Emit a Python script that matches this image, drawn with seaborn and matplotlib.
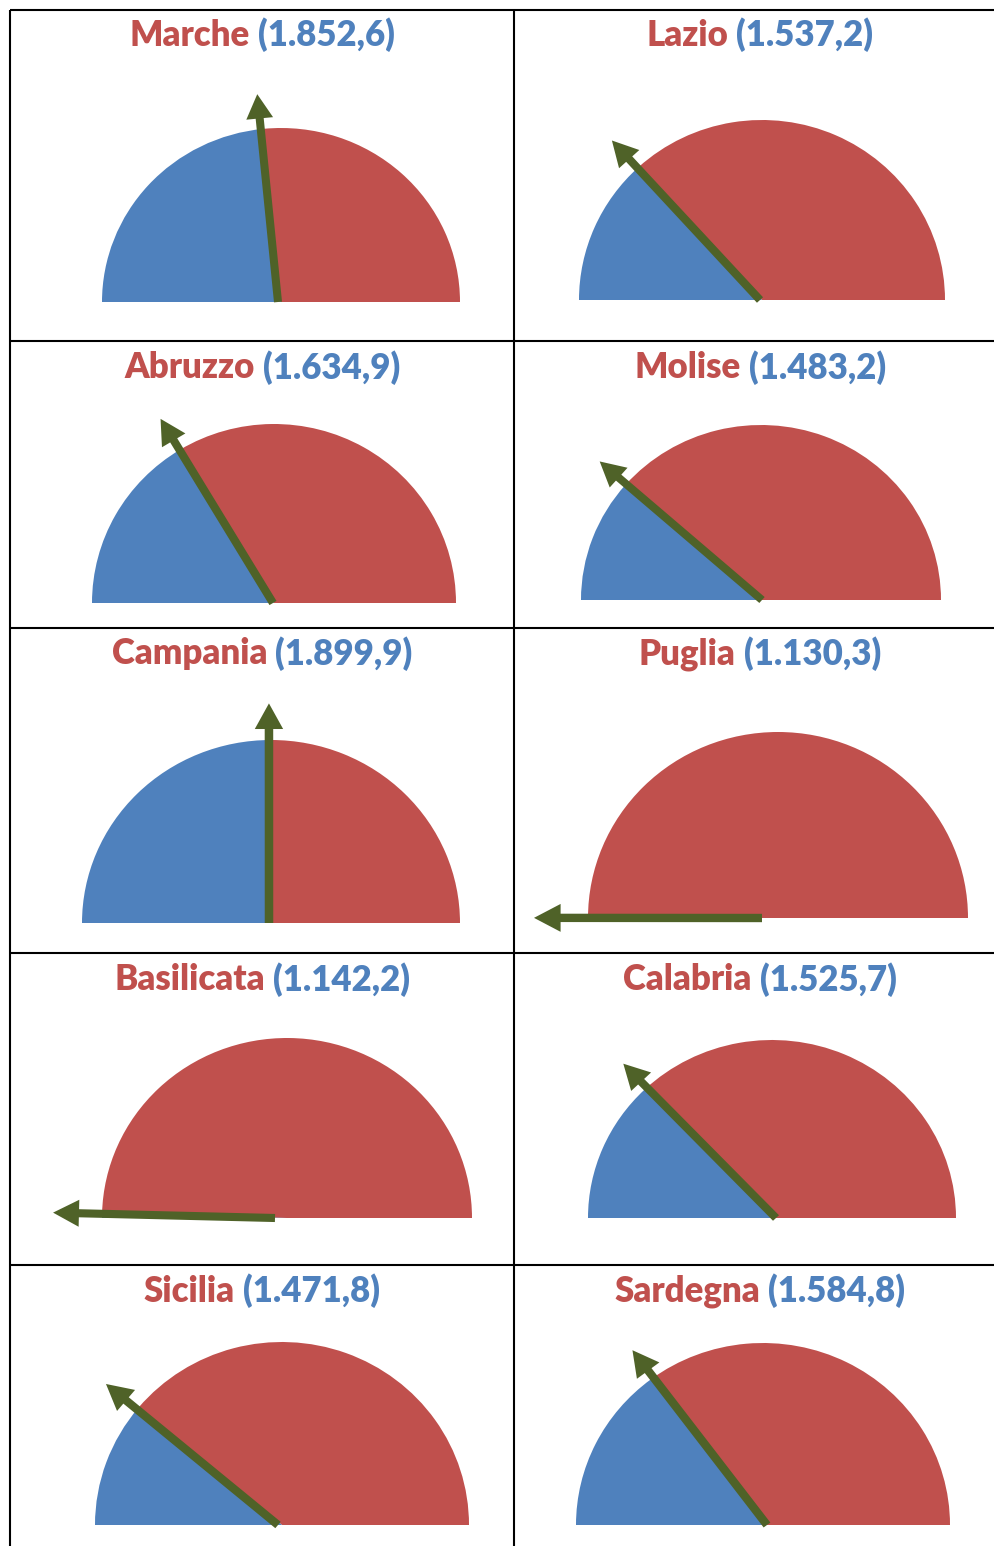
import numpy as np
import matplotlib
matplotlib.use("Agg")
import matplotlib.pyplot as plt
import seaborn as sns

# Gauge data (Italian regions)
regions = ["Marche", "Lazio", "Abruzzo", "Molise", "Campania",
           "Puglia", "Basilicata", "Calabria", "Sicilia", "Sardegna"]
values = [1852.6, 1537.2, 1634.9, 1483.2, 1899.9,
          1130.3, 1142.2, 1525.7, 1471.8, 1584.8]

# gauge scale
gauge_min = 1130.0
gauge_max = 2670.0

RED = "#C0504D"
BLUE = "#4F81BD"
GREEN = "#4F6228"

W, H = 995, 1546

# layout (pixels): semicircle centre, radii, needle base offset, title y
centers = [(281, 302), (762, 300), (274, 603), (761, 600), (271, 923),
           (778, 918), (287, 1218), (772, 1218), (282, 1525), (763, 1525)]
radii = [(179, 174), (183, 180), (182, 179), (180, 175), (189, 183),
         (190, 186), (185, 180), (184, 178), (187, 183), (187, 182)]
needle_dx = [-3, -2, -1, 1, -2, -16, -12, 4, -4, 4]
title_y = [35, 35, 368, 368, 654, 654, 980, 980, 1291, 1291]
title_x = [262, 760]


def it_fmt(v):
    s = f"{v:,.1f}"
    return "(" + s.replace(",", "X").replace(".", ",").replace("X", ".") + ")"


sns.set_theme(style="white")
plt.rcParams["font.family"] = ["Lato", "DejaVu Sans"]

fig = plt.figure(figsize=(W / 100, H / 100), dpi=100)
fig.patch.set_facecolor("white")

# overlay for table lines and titles
ax0 = fig.add_axes([0, 0, 1, 1])
ax0.set_xlim(0, W)
ax0.set_ylim(H, 0)
ax0.axis("off")

for y in [10, 341, 628, 953, 1265]:
    ax0.plot([10, 995], [y, y], color="black", lw=1.5, solid_capstyle="butt")
for x in [10, 514]:
    ax0.plot([x, x], [10, H], color="black", lw=1.5, solid_capstyle="butt")

renderer = fig.canvas.get_renderer()
tprops = dict(fontsize=25, fontweight="heavy", va="center")

L = 1.35
for i, (name, v) in enumerate(zip(regions, values)):
    cx, cy = centers[i]
    rx, ry = radii[i]
    frac = (v - gauge_min) / (gauge_max - gauge_min)
    frac = min(max(frac, 0.0), 1.0)

    left = (cx - rx * L) / W
    bottom = (H - (cy + 0.1 * ry)) / H
    ax = fig.add_axes([left, bottom, 2 * rx * L / W, ry * (L + 0.1) / H])
    ax.pie([1 - frac, frac, 1.0], colors=[RED, BLUE, "none"],
           startangle=0, counterclock=True, radius=1,
           wedgeprops=dict(linewidth=0))
    ax.set_aspect("auto")
    ax.set_xlim(-L, L)
    ax.set_ylim(-0.1, L)
    ax.axis("off")

    ang = np.deg2rad(180 * (1 - frac))
    x0 = needle_dx[i] / rx
    length = 1.2
    ax.arrow(x0, 0, length * np.cos(ang), length * np.sin(ang),
             width=0.045, head_width=0.15, head_length=0.14,
             length_includes_head=True, color=GREEN, lw=0,
             clip_on=False, zorder=5)

    # two-colour title
    val = it_fmt(v)
    full = name + " " + val
    tx = title_x[i % 2]
    ty = title_y[i]
    tmp = ax0.text(0, 0, full, **tprops)
    wfull = tmp.get_window_extent(renderer).width
    tmp.remove()
    xl = tx - wfull / 2
    ax0.text(xl, ty, name, color=RED, ha="left", **tprops)
    ax0.text(xl + wfull, ty, val, color=BLUE, ha="right", **tprops)

fig.savefig("out.png", dpi=100, facecolor="white")
